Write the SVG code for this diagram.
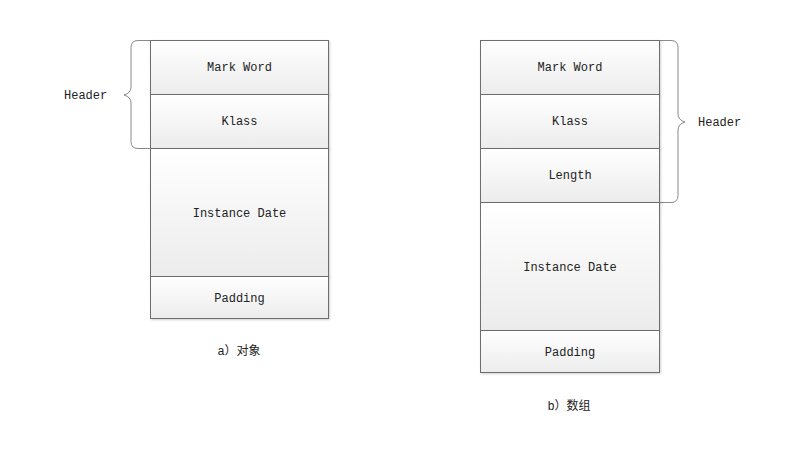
<svg xmlns="http://www.w3.org/2000/svg" width="797" height="465" viewBox="0 0 797 465">
<defs>
<linearGradient id="g" x1="0" y1="0" x2="0" y2="1">
<stop offset="0" stop-color="#ffffff"/>
<stop offset="1" stop-color="#ececec"/>
</linearGradient>
<filter id="sh" x="-10%" y="-10%" width="120%" height="130%">
<feDropShadow dx="1" dy="1" stdDeviation="0.8" flood-color="#000" flood-opacity="0.18"/>
</filter>
</defs>
<style>
.box{fill:url(#g);stroke:#6e6e6e;stroke-width:1;filter:url(#sh)}
.t{font-family:"Liberation Mono","Noto Sans CJK SC",monospace;font-size:12px;fill:#222;text-anchor:middle;dominant-baseline:central}
.tl{font-family:"Liberation Mono","Noto Sans CJK SC",monospace;font-size:12px;fill:#222;dominant-baseline:central}
.brace{fill:none;stroke:#8a8a8a;stroke-width:1}
</style>
<rect width="797" height="465" fill="#ffffff"/>
<g id="object">
<g id="a-markword"><rect class="box" x="150.5" y="40.5" width="178" height="54"/><text class="t" x="239.5" y="68">Mark Word</text></g>
<g id="a-klass"><rect class="box" x="150.5" y="94.5" width="178" height="54"/><text class="t" x="239.5" y="122">Klass</text></g>
<g id="a-instance"><rect class="box" x="150.5" y="148.5" width="178" height="128"/><text class="t" x="239.5" y="214">Instance Date</text></g>
<g id="a-padding"><rect class="box" x="150.5" y="276.5" width="178" height="42"/><text class="t" x="239.5" y="299">Padding</text></g>
<g id="a-header"><text class="tl" x="64" y="96">Header</text></g>
<text id="a-caption" class="t" x="239" y="352">a）对象</text>
</g>
<g id="array">
<g id="b-markword"><rect class="box" x="480.5" y="40.5" width="179" height="54"/><text class="t" x="570" y="68">Mark Word</text></g>
<g id="b-klass"><rect class="box" x="480.5" y="94.5" width="179" height="54"/><text class="t" x="570" y="122">Klass</text></g>
<g id="b-length"><rect class="box" x="480.5" y="148.5" width="179" height="54"/><text class="t" x="570" y="176">Length</text></g>
<g id="b-instance"><rect class="box" x="480.5" y="202.5" width="179" height="128"/><text class="t" x="570" y="268">Instance Date</text></g>
<g id="b-padding"><rect class="box" x="480.5" y="330.5" width="179" height="42"/><text class="t" x="570" y="353">Padding</text></g>
<g id="b-header"><text class="tl" x="698" y="123">Header</text></g>
<text id="b-caption" class="t" x="569" y="407">b）数组</text>
</g>
<g id="connectors">
<path class="brace" d="M150,40.5 H138 Q131,40.5 131,47.5 V87 Q131,93 124,95 Q131,97 131,103 V141.5 Q131,148.5 138,148.5 H150"/>
<path class="brace" d="M660,40.5 H671 Q678,40.5 678,47.5 V114 Q678,120 685,122 Q678,124 678,130 V195.5 Q678,202.5 671,202.5 H660"/>
</g>
</svg>
